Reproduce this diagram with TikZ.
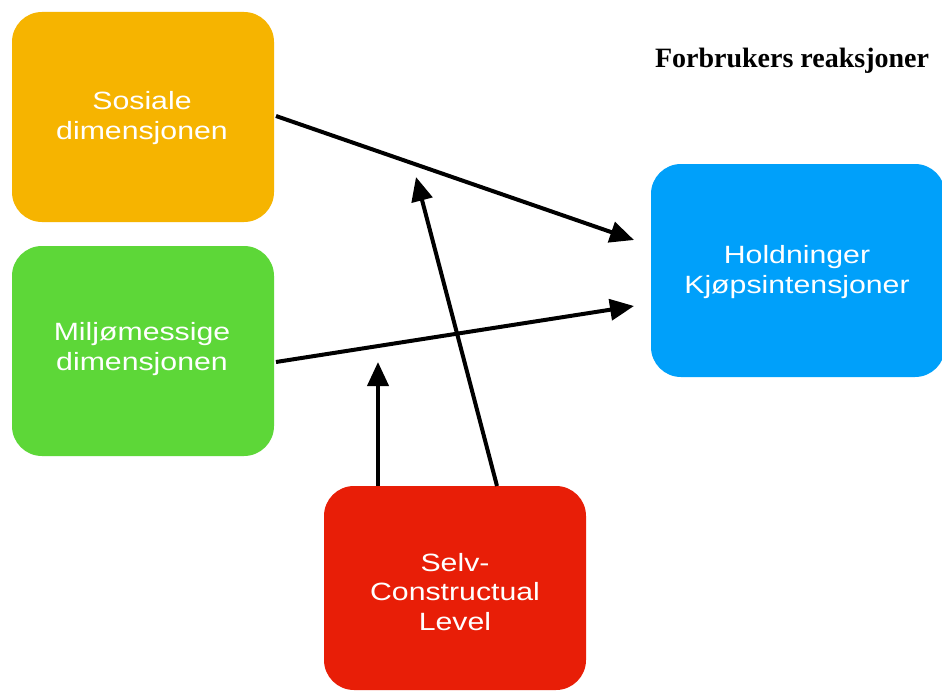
\documentclass[tikz,border=0pt]{standalone}
\usepackage{fontspec}
\setmainfont{Liberation Sans}
\newfontfamily\boxfont[FakeStretch=1.21]{Liberation Sans}
\newfontfamily\titlefont{Liberation Serif}
\usetikzlibrary{arrows.meta}
\definecolor{boxorange}{HTML}{F6B400}
\definecolor{boxgreen}{HTML}{5DD738}
\definecolor{boxblue}{HTML}{00A0FA}
\definecolor{boxred}{HTML}{E81E07}
\tikzset{
  boxnode/.style={inner sep=0pt, text=white, align=center,
    font=\boxfont\fontsize{25}{29.5}\selectfont},
  link/.style={line width=4pt, -{Triangle[length=24pt,width=21pt]}}
}
\begin{document}
\begin{tikzpicture}[x=1pt,y=-1pt]
\useasboundingbox (0,0) rectangle (942,693);
\fill[white] (0,0) rectangle (942,693);
% boxes
\fill[boxorange, rounded corners=30pt] (12,12) rectangle (274,222);
\fill[boxgreen, rounded corners=30pt] (12,246) rectangle (274,456);
\fill[boxblue, rounded corners=30pt] (651,164) rectangle (945,377);
\fill[boxred, rounded corners=30pt] (324,486) rectangle (586,690);
% texts
\node[boxnode] (sos) at (142,118) {Sosiale\\dimensjonen};
\node[boxnode] (mil) at (142,349) {Miljømessige\\dimensjonen};
\node[boxnode] (hol) at (797,272) {Holdninger\\Kjøpsintensjoner};
\node[boxnode] (sel) at (455,592) {Selv-\\Constructual\\Level};
\node[font=\titlefont\bfseries\fontsize{28}{32}\selectfont] (title) at (792,61) {Forbrukers reaksjoner};
% connector endpoints
\coordinate (a1s) at (276,116);
\coordinate (a1e) at (634,240);
\coordinate (a2s) at (276,362);
\coordinate (a2e) at (634,306);
\coordinate (a3s) at (497,486);
\coordinate (a3e) at (416,177);
\coordinate (a4s) at (378,486);
\coordinate (a4e) at (378,362);
\draw[link] (a1s) -- (a1e);
\draw[link] (a2s) -- (a2e);
\draw[link] (a3s) -- (a3e);
\draw[link] (a4s) -- (a4e);
\end{tikzpicture}
\end{document}
